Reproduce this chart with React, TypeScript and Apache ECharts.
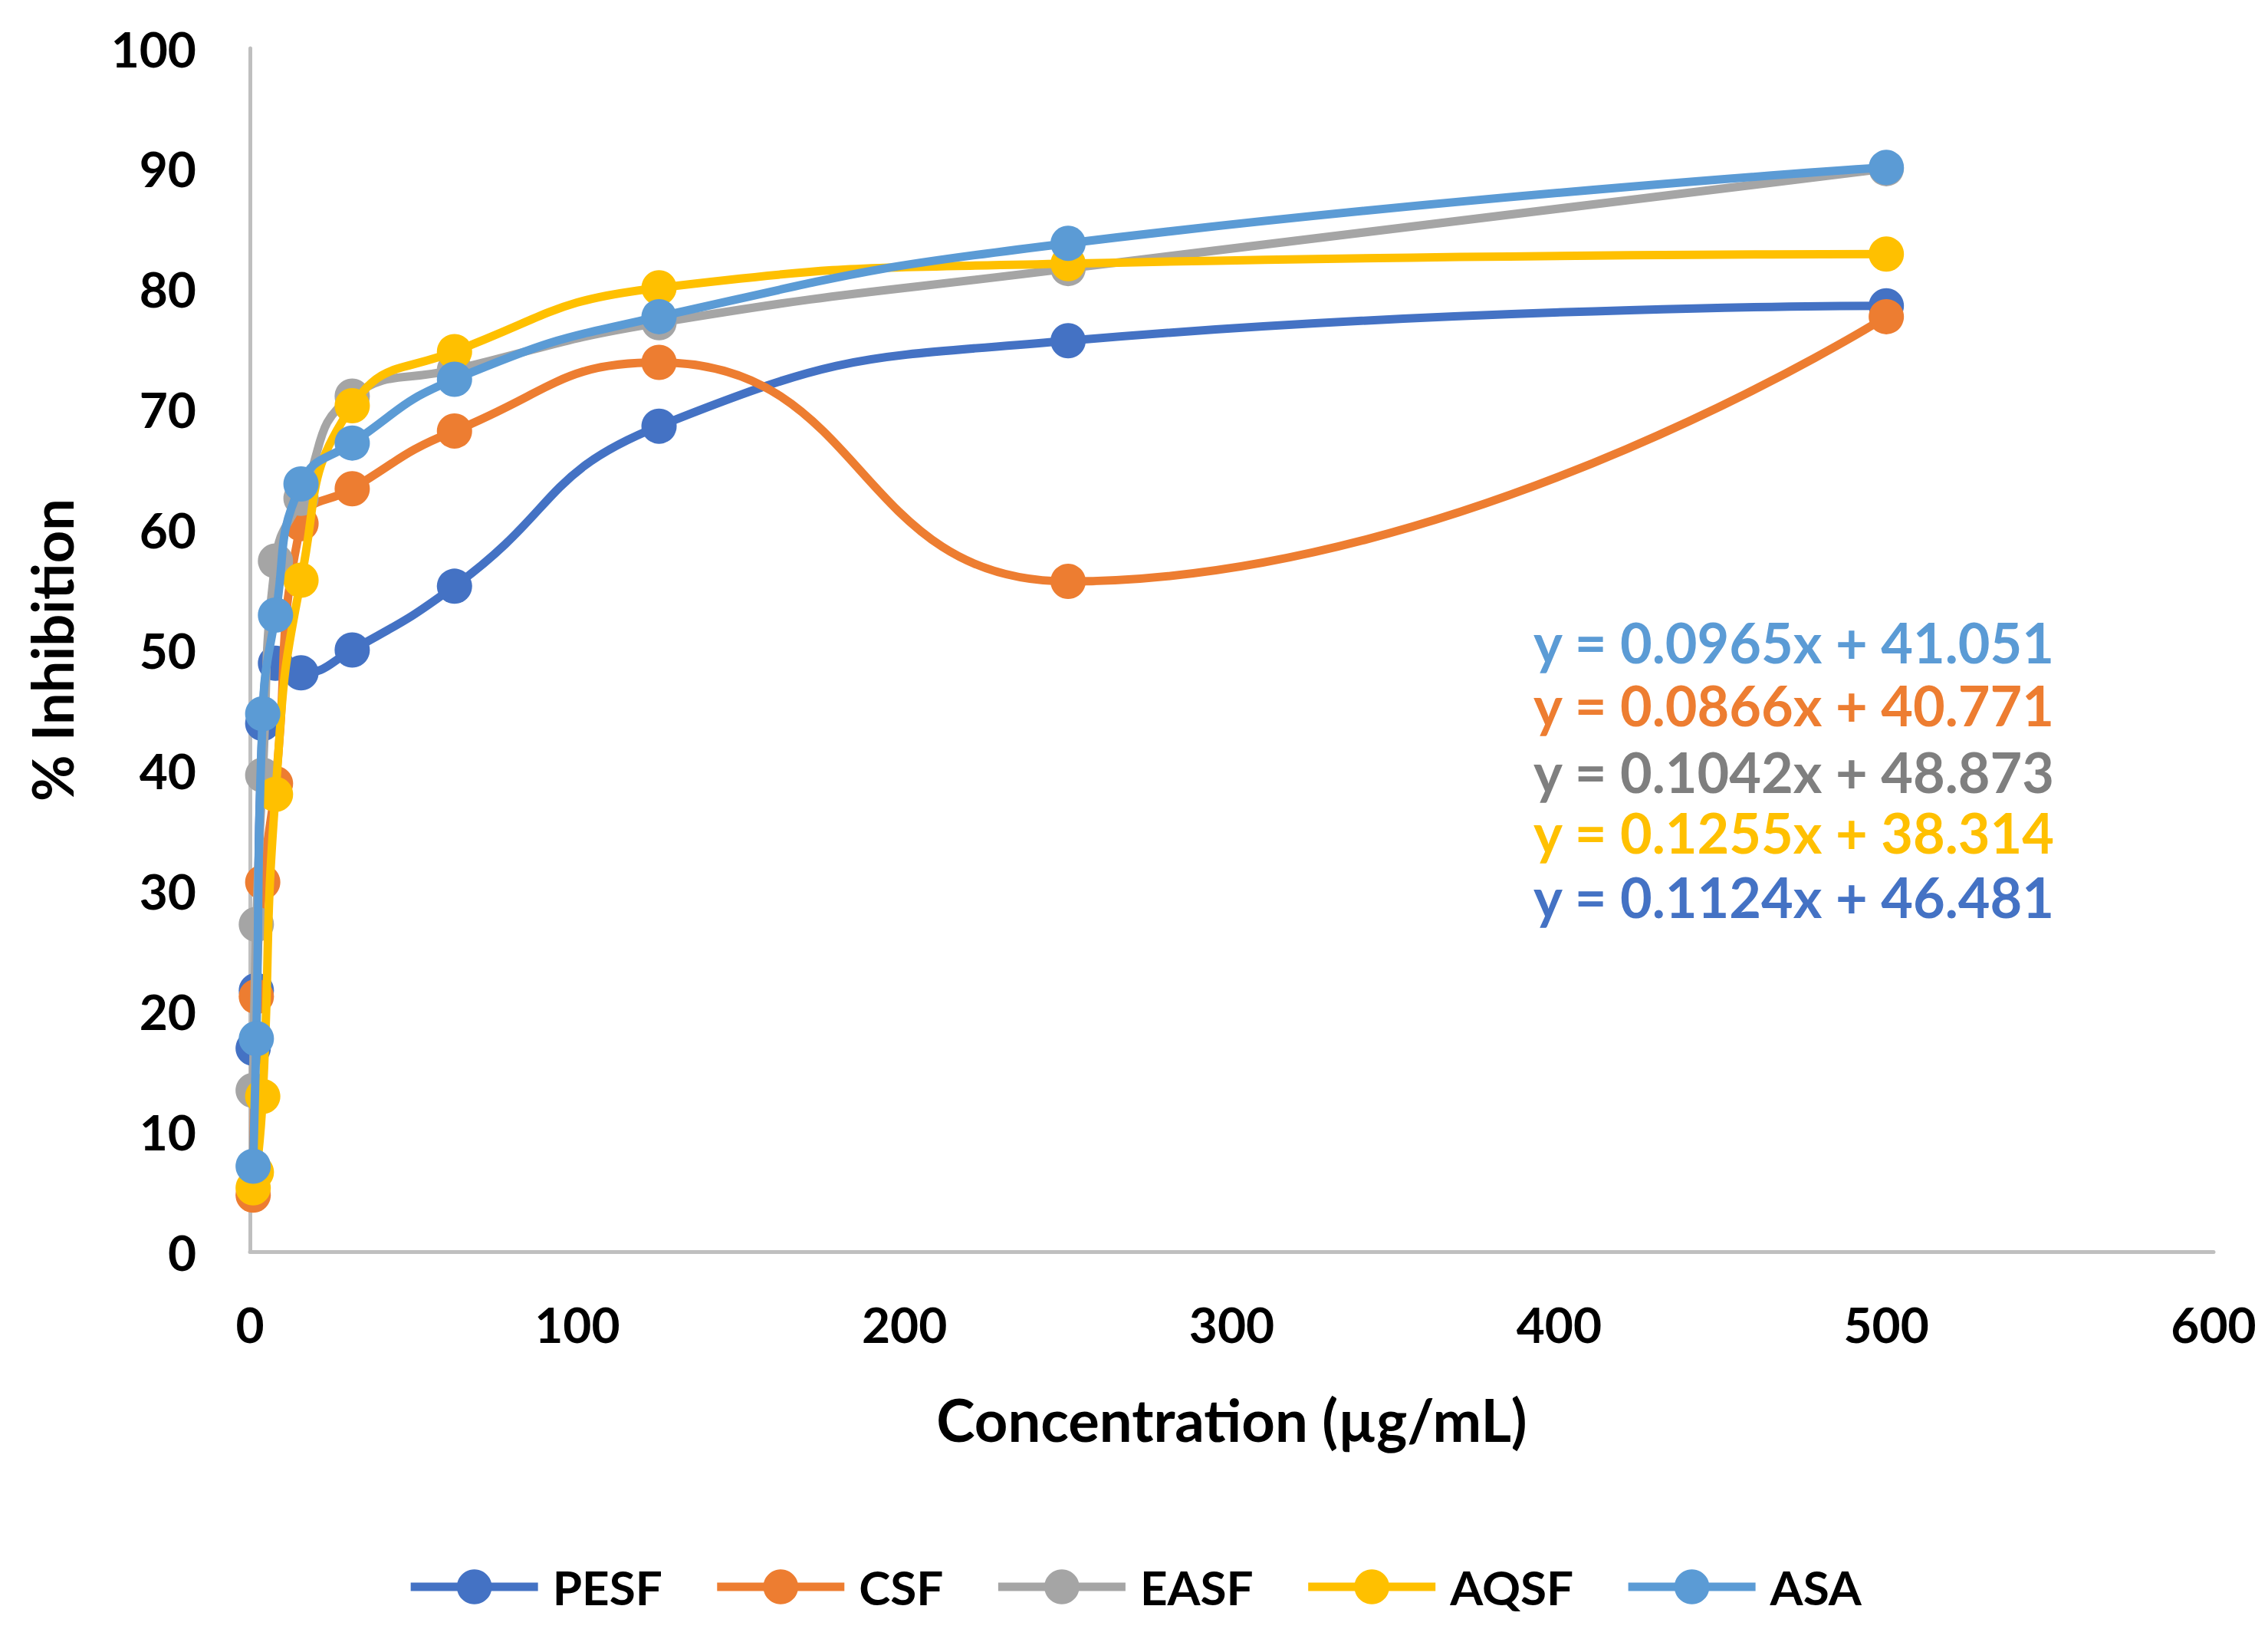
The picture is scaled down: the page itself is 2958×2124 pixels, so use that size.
import React, { useEffect, useRef } from "react";
import * as echarts from "echarts";

const concentrations = [0.98, 1.95, 3.9, 7.8, 15.6, 31.25, 62.5, 125, 250, 500];
const seriesNames = ["PESF", "CSF", "EASF", "AQSF", "ASA"];
const pesf = [16.9, 21.7, 43.9, 48.9, 48.1, 50.0, 55.3, 68.6, 75.7, 78.6];
const csf = [4.7, 21.2, 30.7, 38.9, 60.5, 63.4, 68.2, 73.9, 55.7, 77.7];
const easf = [13.4, 27.2, 39.6, 57.4, 62.6, 71.1, 73.3, 77.2, 81.7, 90.0];
const aqsf = [5.3, 6.6, 12.9, 38.0, 55.8, 70.3, 74.8, 80.1, 82.1, 82.9];
const asa = [7.1, 17.7, 44.7, 52.9, 63.8, 67.2, 72.5, 77.7, 83.8, 90.1];
const seriesValues = [pesf, csf, easf, aqsf, asa];
const seriesColors = ["#4472C4", "#ED7D31", "#A5A5A5", "#FFC000", "#5B9BD5"];

const equations = [
  "y = 0.0965x + 41.051",
  "y = 0.0866x + 40.771",
  "y = 0.1042x + 48.873",
  "y = 0.1255x + 38.314",
  "y = 0.1124x + 46.481",
];
const equationColors = ["#5B9BD5", "#ED7D31", "#7F7F7F", "#FFC000", "#4472C4"];
const equationY = [838, 920, 1007, 1086, 1170];

const FONT = "Lato";

export default function App() {
  const ref = useRef<HTMLDivElement>(null);
  useEffect(() => {
    if (!ref.current) return;
    const chart = echarts.init(ref.current, null, { renderer: "svg" });
    const option = {
      animation: false,
      backgroundColor: "#ffffff",
      grid: { left: 326, right: 71, top: 63, bottom: 492, containLabel: false },
      xAxis: {
        type: "value",
        min: 0,
        max: 600,
        interval: 100,
        name: "Concentration (µg/mL)",
        nameLocation: "middle",
        nameGap: 180,
        nameTextStyle: { fontFamily: FONT, fontWeight: "bold", fontSize: 76, color: "#000" },
        axisLine: { show: true, lineStyle: { color: "#BFBFBF", width: 5 } },
        axisTick: { show: false },
        splitLine: { show: false },
        axisLabel: { fontFamily: FONT, fontWeight: "bold", fontSize: 64, color: "#000", margin: 62 },
      },
      yAxis: {
        type: "value",
        min: 0,
        max: 100,
        interval: 10,
        name: "% Inhibition",
        nameLocation: "middle",
        nameGap: 222,
        nameTextStyle: { fontFamily: FONT, fontWeight: "bold", fontSize: 74, color: "#000" },
        axisLine: { show: true, lineStyle: { color: "#BFBFBF", width: 5 } },
        axisTick: { show: false },
        splitLine: { show: false },
        axisLabel: { fontFamily: FONT, fontWeight: "bold", fontSize: 64, color: "#000", margin: 70 },
      },
      legend: {
        left: "center",
        top: 2033,
        itemWidth: 166,
        itemHeight: 57,
        itemGap: 66,
        lineStyle: { width: 11 },
        textStyle: {
          fontFamily: FONT,
          fontWeight: "bold",
          fontSize: 62,
          color: "#000",
          padding: [0, 0, 0, 14],
        },
        data: seriesNames,
      },
      graphic: equations.map((t, i) => ({
        type: "text",
        left: 2000,
        top: equationY[i] - 37,
        style: {
          text: t,
          fontFamily: FONT,
          fontWeight: "bold",
          fontSize: 72,
          fill: equationColors[i],
        },
        z: 100,
      })),
      series: seriesNames.map((name, i) => ({
        name,
        type: "line",
        smooth: 0.5,
        symbol: "circle",
        symbolSize: 46,
        data: concentrations.map((c, j) => [c, seriesValues[i][j]]),
        lineStyle: { color: seriesColors[i], width: 11 },
        itemStyle: { color: seriesColors[i] },
        z: 2 + i,
      })),
    };
    chart.setOption(option);
    return () => chart.dispose();
  }, []);
  return (
    <div
      ref={ref}
      style={{ position: "fixed", left: 0, top: 0, width: 2958, height: 2124, background: "#fff" }}
    />
  );
}
